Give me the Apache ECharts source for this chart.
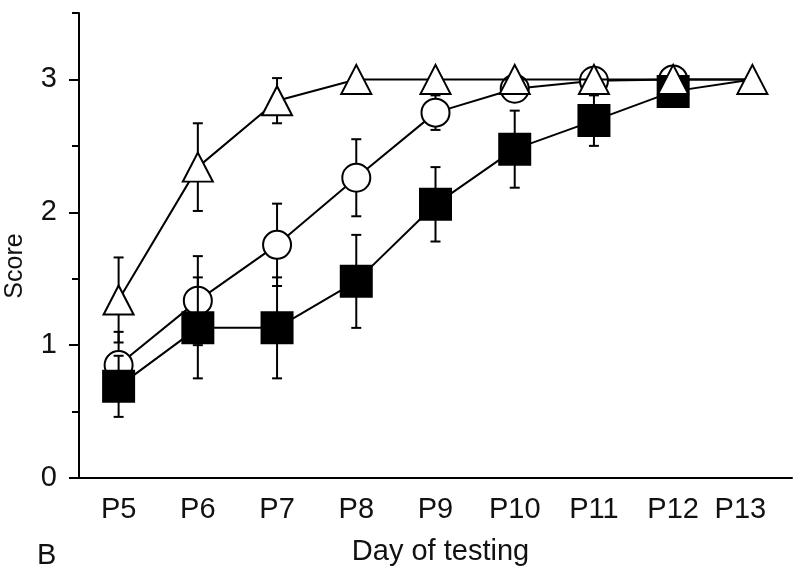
<!DOCTYPE html>
<html>
<head>
<meta charset="utf-8">
<script src="https://cdn.jsdelivr.net/npm/echarts@6/dist/echarts.min.js"></script>
<style>
html,body{margin:0;padding:0;background:#fff;}
#chart{width:800px;height:575px;}
</style>
</head>
<body>
<div id="chart"></div>
<script>
// ---- data ----
var days = ['P5', 'P6', 'P7', 'P8', 'P9', 'P10', 'P11', 'P12', 'P13'];
var triMean  = [1.34, 2.34, 2.84, 3.0, 3.0, 3.0, 3.0, 3.0, 3.0];
var triErr   = [0.32, 0.33, 0.17, 0, 0, 0, 0, 0, 0];
var circMean = [0.85, 1.335, 1.755, 2.26, 2.75, 2.93, 2.99, 3.0, 3.0];
var circErr  = [0.25, 0.335, 0.31, 0.29, 0.13, 0.05, 0.03, 0, 0];
var sqMean   = [0.69, 1.13, 1.13, 1.48, 2.06, 2.475, 2.69, 2.91, 3.0];
var sqErr    = [0.23, 0.38, 0.38, 0.35, 0.28, 0.29, 0.19, 0.07, 0];
var circHidden = [8];   // points drawn without marker
var sqHidden   = [8];
var yTicksMajor = [0, 1, 2, 3];

var FONT = "'Liberation Sans', Arial, Helvetica, sans-serif";
var FS = 29;

function errData(mean, err) {
  return mean.map(function (m, i) { return [i, m - err[i], m + err[i]]; });
}
function lineData(mean, hidden) {
  return mean.map(function (m, i) {
    return hidden.indexOf(i) >= 0 ? { value: m, symbol: 'none' } : m;
  });
}
function errRender(params, api) {
  var lo = api.value(1), hi = api.value(2);
  if (hi - lo < 1e-9) return null;
  var p0 = api.coord([api.value(0), lo]);
  var p1 = api.coord([api.value(0), hi]);
  var w = 5;
  var st = { stroke: '#000', lineWidth: 2 };
  return {
    type: 'group',
    children: [
      { type: 'line', shape: { x1: p0[0], y1: p0[1], x2: p1[0], y2: p1[1] }, style: st },
      { type: 'line', shape: { x1: p0[0] - w, y1: p0[1], x2: p0[0] + w, y2: p0[1] }, style: st },
      { type: 'line', shape: { x1: p1[0] - w, y1: p1[1], x2: p1[0] + w, y2: p1[1] }, style: st }
    ]
  };
}

var chart = echarts.init(document.getElementById('chart'), null, { renderer: 'canvas' });

var unit = (478 - 13) / 3.5;
var option = {
  animation: false,
  backgroundColor: '#fff',
  textStyle: { fontFamily: FONT },
  grid: [
    { left: 79, right: 8, top: 13, bottom: 97 },
    { left: 79, right: 8, top: 478 - 3 * unit, bottom: 97 }
  ],
  xAxis: [
    {
      type: 'category', gridIndex: 0, data: days, boundaryGap: true,
      name: 'Day of testing', nameLocation: 'middle', nameGap: 59,
      nameTextStyle: { fontFamily: FONT, fontSize: FS, color: '#111', padding: [0, 0, 0, 10] },
      axisLine: { lineStyle: { color: '#000', width: 2 } },
      axisTick: { alignWithLabel: true, interval: 0, length: 5, lineStyle: { color: '#000', width: 2 } },
      axisLabel: {
        interval: 0,
        fontFamily: FONT, fontSize: FS, color: '#111', margin: 17,
        formatter: function (v) { return v === 'P13' ? '{s|' + v + '}' : v; },
        rich: { s: { fontFamily: FONT, fontSize: FS, color: '#111', padding: [0, 24, 0, 0] } }
      },
      splitLine: { show: false }
    },
    { type: 'category', gridIndex: 1, data: days, show: false }
  ],
  yAxis: [
    {
      type: 'value', gridIndex: 0, min: 0, max: 3.5, interval: 0.5,
      axisLine: { show: true, lineStyle: { color: '#000', width: 2 } },
      axisTick: { show: true, length: 7, lineStyle: { color: '#000', width: 2 } },
      axisLabel: { show: false },
      splitLine: { show: false }
    },
    {
      type: 'value', gridIndex: 1, min: yTicksMajor[0], max: yTicksMajor[yTicksMajor.length - 1], interval: 1,
      axisLine: { show: false },
      axisTick: { show: true, length: 10, lineStyle: { color: '#000', width: 2 } },
      axisLabel: { show: true, fontFamily: FONT, fontSize: FS, color: '#111', margin: 22 },
      splitLine: { show: false }
    }
  ],
  graphic: [
    {
      type: 'text', x: 15, y: 266, rotation: Math.PI / 2,
      style: { text: 'Score', fontFamily: FONT, fontSize: 25, fill: '#111', align: 'center', verticalAlign: 'middle' }
    },
    {
      type: 'text', x: 37, y: 556,
      style: { text: 'B', fontFamily: FONT, fontSize: FS, fill: '#111', align: 'left', verticalAlign: 'middle' }
    }
  ],
  series: [
    { type: 'custom', name: 'circErr', xAxisIndex: 0, yAxisIndex: 0, z: 2, renderItem: errRender, data: errData(circMean, circErr), silent: true },
    {
      type: 'line', name: 'Circle', z: 3, data: lineData(circMean, circHidden),
      symbol: 'circle', symbolSize: 28, showAllSymbol: true,
      lineStyle: { color: '#000', width: 2 },
      itemStyle: { color: '#fff', borderColor: '#000', borderWidth: 2 },
      emphasis: { disabled: true }, silent: true
    },
    { type: 'custom', name: 'sqErr', xAxisIndex: 0, yAxisIndex: 0, z: 4, renderItem: errRender, data: errData(sqMean, sqErr), silent: true },
    {
      type: 'line', name: 'Square', z: 5, data: lineData(sqMean, sqHidden),
      symbol: 'rect', symbolSize: 33, showAllSymbol: true,
      lineStyle: { color: '#000', width: 2 },
      itemStyle: { color: '#000', borderColor: '#000', borderWidth: 0 },
      emphasis: { disabled: true }, silent: true
    },
    { type: 'custom', name: 'triErr', xAxisIndex: 0, yAxisIndex: 0, z: 6, renderItem: errRender, data: errData(triMean, triErr), silent: true },
    {
      type: 'line', name: 'Triangle', z: 7, data: triMean,
      symbol: 'triangle', symbolSize: [30, 29], showAllSymbol: true,
      lineStyle: { color: '#000', width: 2 },
      itemStyle: { color: '#fff', borderColor: '#000', borderWidth: 2 },
      emphasis: { disabled: true }, silent: true
    }
  ]
};
chart.setOption(option);
</script>
</body>
</html>
